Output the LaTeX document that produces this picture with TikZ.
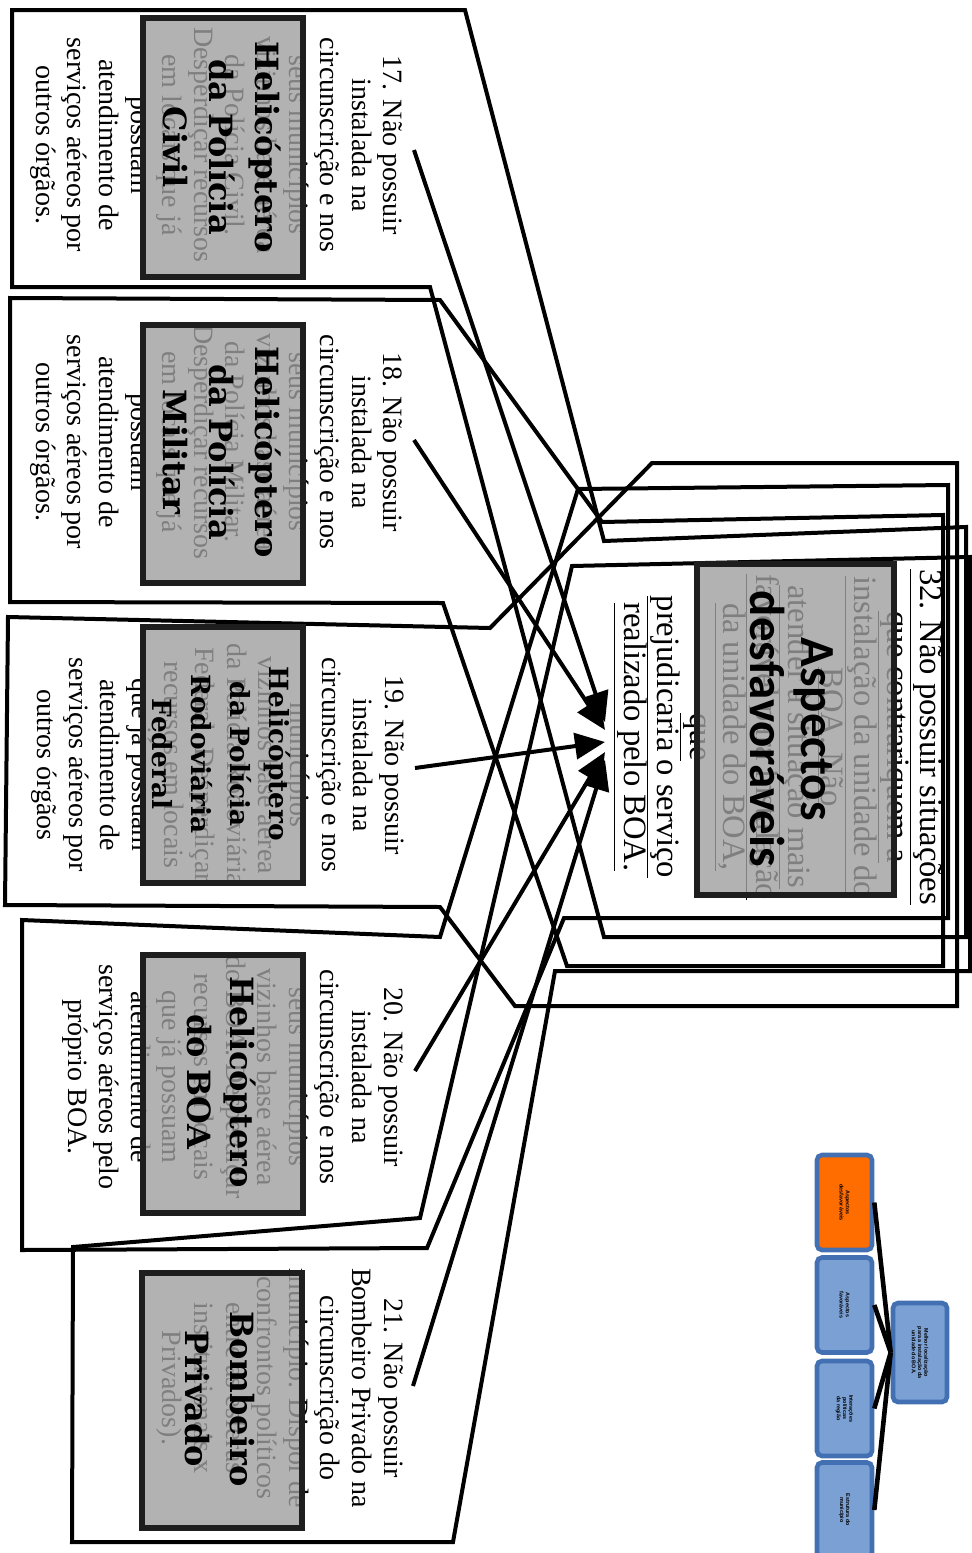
\documentclass[tikz,border=0pt]{standalone}
\usepackage{fontspec}
\setmainfont{Liberation Serif}
\newfontfamily\titleserif{DejaVu Serif}
\newfontfamily\headsans{Carlito}
\newfontfamily\tinysans{Liberation Sans}
\usetikzlibrary{arrows.meta}
\definecolor{boxgray}{RGB}{159,159,159}
\definecolor{boxedge}{RGB}{30,30,30}
\definecolor{insetfill}{RGB}{123,160,212}
\definecolor{insetedge}{RGB}{66,112,178}
\definecolor{insetorange}{RGB}{255,108,0}
% fixed line spacing even for underlined lines
\newcommand\fixedlines{\lineskiplimit=-100pt\relax}
\tikzset{
  outline/.style={draw=black, line width=2pt, line join=miter},
  bodytext/.style={rotate=-90, align=center, inner sep=0pt,
    font=\fontsize{14}{15.8}\selectfont},
  centertext/.style={rotate=-90, align=center, inner sep=0pt,
    font=\fontsize{16.3}{16.45}\selectfont\fixedlines},
  graybox/.style={draw=boxedge, line width=3.2pt, fill=boxgray,
    fill opacity=0.8, text opacity=1, inner sep=0pt},
  titletext/.style={rotate=-90, align=center, inner sep=0pt,
    font=\titleserif\bfseries\fontsize{16}{22.8}\selectfont},
  headtext/.style={rotate=-90, align=center, inner sep=0pt,
    font=\headsans\bfseries\fontsize{24.5}{25.5}\selectfont},
  link/.style={draw=black, line width=2pt,
    -{Triangle[length=15pt,width=13pt]}},
  insetbox/.style={draw=insetedge, line width=2.3pt, fill=insetfill,
    rounded corners=2.5pt, inner sep=0pt, minimum width=27.5pt,
    minimum height=47.5pt},
  insettext/.style={rotate=-90, align=center, inner sep=0pt,
    font=\tinysans\bfseries\fontsize{2.7}{3.1}\selectfont},
  insetlink/.style={draw=black, line width=2.3pt},
}
\begin{document}
\begin{tikzpicture}[x=0.5pt,y=-0.5pt]
\useasboundingbox (0,0) rectangle (971,1553);

% group outlines, each running from its statement round statement 32
\draw[outline] (12,10) -- (465,10) -- (604,541) -- (966,527) -- (966,937)
  -- (604,937) -- (430,287) -- (12,287) -- cycle;
\draw[outline] (10,298) -- (440,300) -- (602,522) -- (943,515) -- (943,966)
  -- (567,966) -- (443,603) -- (10,602) -- cycle;
\draw[outline] (8,617) -- (490,628) -- (652,463) -- (957,463) -- (957,1006)
  -- (515,1006) -- (440,907) -- (5,905) -- cycle;
\draw[outline] (22,920) -- (440,937) -- (578,489) -- (948,485) -- (948,918)
  -- (564,918) -- (427,1248) -- (22,1250) -- cycle;
\draw[outline] (73,1247) -- (420,1218) -- (572,566) -- (970,557) -- (970,971)
  -- (555,971) -- (453,1542) -- (72,1542) -- cycle;

% statements
\node[bodytext] (b17) at (216.5,145) {17. Não possuir\\instalada na\\circunscrição e nos\\seus municípios\\vizinhos base aérea\\da Polícia Civil.\\Desperdiçar recursos\\em locais que já\\possuam\\atendimento de\\serviços aéreos por\\outros órgãos.};
\node[bodytext] (b18) at (216.5,442) {18. Não possuir\\instalada na\\circunscrição e nos\\seus municípios\\vizinhos base aérea\\da Polícia Militar.\\Desperdiçar recursos\\em locais que já\\possuam\\atendimento de\\serviços aéreos por\\outros órgãos.};
\node[bodytext] (b19) at (218,765) {19. Não possuir\\instalada na\\circunscrição e nos\\municípios\\vizinhos base aérea\\da Polícia Rodoviária\\Federal. Desperdiçar\\recursos em locais\\que já possuam\\atendimento de\\serviços aéreos por\\outros órgãos};
\node[bodytext] (b20) at (232.5,1077) {20. Não possuir\\instalada na\\circunscrição e nos\\seus municípios\\vizinhos base aérea\\do BOA. Desperdiçar\\recursos em locais\\que já possuam\\atendimento de\\serviços aéreos pelo\\próprio BOA.};
\node[bodytext] (b21) at (280,1388) {21. Não possuir\\Bombeiro Privado na\\circunscrição do\\município. Dispor de\\confrontos políticos\\entre as esferas\\institucionais x\\Privados).};
\node[centertext] (b32) at (778,737) {\underline{32. Não possuir situações}\\\underline{que contrariquem a}\\\underline{instalação da unidade do}\\\underline{BOA. Não}\\\underline{atender à situação mais}\\\underline{favorável para instalação}\\\underline{da unidade do BOA,}\\\underline{que}\\\underline{prejudicaria o serviço}\\\underline{realizado pelo BOA.}};

% shaded title boxes
\node[graybox, minimum width=80pt, minimum height=129.5pt] (g17) at (223,147.5) {};
\node[graybox, minimum width=80pt, minimum height=129pt] (g18) at (223,454) {};
\node[graybox, minimum width=80pt, minimum height=128pt] (g19) at (223,755) {};
\node[graybox, minimum width=80pt, minimum height=129pt] (g20) at (223,1084) {};
\node[graybox, minimum width=80pt, minimum height=127.5pt] (g21) at (222,1400.5) {};
\node[graybox, minimum width=98.5pt, minimum height=165.5pt] (g32) at (795.5,729.5) {};

\node[titletext] (h17) at (222,147) {Helicóptero\\da Polícia\\Civil};
\node[titletext] (h18) at (222,452) {Helicóptero\\da Polícia\\Militar};
\node[titletext, font=\titleserif\bfseries\fontsize{13.2}{19.5}\selectfont] (h19) at (221,754) {Helicóptero\\da Polícia\\Rodoviária\\Federal};
\node[titletext, font=\titleserif\bfseries\fontsize{16}{21.5}\selectfont] (h20) at (222,1082) {Helicóptero\\do BOA};
\node[titletext, font=\titleserif\bfseries\fontsize{16}{22.5}\selectfont] (h21) at (220,1399) {Bombeiro\\Privado};
\node[headtext] (h32) at (792,729) {Aspectos\\desfavoráveis};

% links into statement 32
\coordinate (s17) at (414,150);
\coordinate (s18) at (414,440);
\coordinate (s19) at (415,768);
\coordinate (s20) at (415,1071);
\coordinate (s21) at (413,1386);
\coordinate (e17) at (605,722);
\coordinate (e18) at (605,730);
\coordinate (e19) at (605,742);
\coordinate (e20) at (605,752);
\coordinate (e21) at (605,760);
\draw[link] (s17) -- (e17);
\draw[link] (s18) -- (e18);
\draw[link] (s19) -- (e19);
\draw[link] (s20) -- (e20);
\draw[link] (s21) -- (e21);

% overview map
\node[insetbox, fill=insetorange] (k1) at (844.5,1202.5) {};
\node[insetbox] (k2) at (844.5,1305) {};
\node[insetbox] (k3) at (844.5,1408.5) {};
\node[insetbox] (k4) at (844.5,1510) {};
\node[insetbox, minimum width=27pt, minimum height=49.5pt] (km) at (920,1352.5) {};
\node[insettext] at (k1) {Aspectos\\desfavoráveis};
\node[insettext] at (k2) {Aspectos\\favoráveis};
\node[insettext] at (k3) {Interações\\políticas\\da região};
\node[insettext] at (k4) {Estrutura do\\município};
\node[insettext] at (km) {Melhor localização\\para a instalação da\\unidade do BOA.};
\draw[insetlink] (km.west) -- (k1.east);
\draw[insetlink] (km.west) -- (k2.east);
\draw[insetlink] (km.west) -- (k3.east);
\draw[insetlink] (km.west) -- (k4.east);
\end{tikzpicture}
\end{document}
